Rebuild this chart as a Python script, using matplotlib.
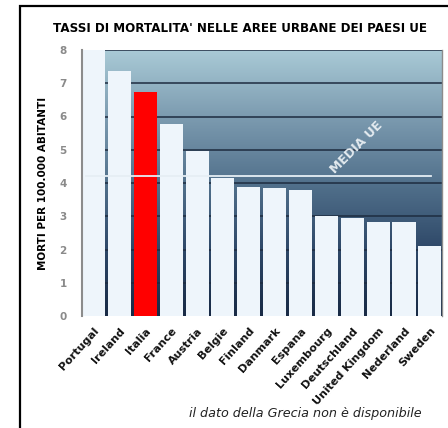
import numpy as np
import matplotlib
matplotlib.use('Agg')
import matplotlib.pyplot as plt
from matplotlib.colors import LinearSegmentedColormap
from matplotlib.patches import Rectangle

plt.rcParams['font.family'] = ['DejaVu Sans']

paesi = ['Portugal', 'Ireland', 'Italia', 'France', 'Austria', 'Belgie', 'Finland',
         'Danmark', 'Espana', 'Luxembourg', 'Deutschland', 'United Kingdom',
         'Nederland', 'Sweden']
tassi = [8.0, 7.37, 6.73, 5.77, 4.96, 4.16, 3.89, 3.84, 3.78, 3.01, 2.94, 2.83, 2.83, 2.11]
media_ue = 4.21
yticks = [0, 1, 2, 3, 4, 5, 6, 7, 8]

fig = plt.figure(figsize=(4.48, 4.28), dpi=100)
fig.patch.set_facecolor('white')

# cornice nera esterna
fig.patches.append(Rectangle((20 / 448, -0.05), 1.2, 1 - 6 / 428 + 0.05,
                             transform=fig.transFigure, fill=False,
                             edgecolor='black', linewidth=1.6))

ax = fig.add_axes([82 / 448, 1 - 316 / 428, (441.5 - 82) / 448, (316 - 50) / 428])
x = np.arange(len(paesi))
xmin, xmax = -0.45, len(paesi) - 0.55

# sfondo sfumato, chiaro in alto e scuro in basso
cmap = LinearSegmentedColormap.from_list('sfondo', ['#a9cad6', '#7c9bb0', '#52718c', '#2e4868', '#182a45'])
grad = np.linspace(0, 1, 256).reshape(-1, 1)
ax.imshow(grad, cmap=cmap, aspect='auto', extent=(xmin, xmax, 0, 8), zorder=0)

for y in yticks[1:]:
    ax.axhline(y, color='#1e2c40', linewidth=1.1, zorder=1)

colori = ['#eef5fb'] * len(paesi)
colori[paesi.index('Italia')] = '#ff0000'
ax.bar(x, tassi, width=0.89, color=colori, edgecolor='none', zorder=2)

ax.plot([-0.3, 13.05], [media_ue, media_ue], color='#e6eef4', linewidth=1.3, zorder=3)
ax.text(10.15, 5.08, 'MEDIA UE', rotation=45, color='#e3eaef', fontsize=9,
        fontweight='bold', ha='center', va='center', zorder=3)

ax.set_xlim(xmin, xmax)
ax.set_ylim(0, 8)
ax.set_yticks(yticks)
ax.set_yticklabels([str(v) for v in yticks], color='#8a8a8a', fontsize=7.5, fontweight='bold')
ax.tick_params(axis='y', length=0, pad=11)
ax.set_xticks(x)
ax.set_xticklabels(paesi, rotation=48, ha='right', rotation_mode='anchor',
                   fontsize=8, fontweight='bold', color='#111111')
ax.tick_params(axis='x', length=0, pad=7)

for s in ['top', 'bottom']:
    ax.spines[s].set_visible(False)
ax.spines['left'].set_color('#8c8c8c')
ax.spines['left'].set_linewidth(1.5)
ax.spines['right'].set_color('#8c8c8c')
ax.spines['right'].set_linewidth(1.0)

ax.set_ylabel('MORTI PER 100.000 ABITANTI', fontsize=7.5, fontweight='bold', labelpad=8)

fig.text(240 / 448, 1 - 28 / 428, "TASSI DI MORTALITA' NELLE AREE URBANE DEI PAESI UE",
         ha='center', va='center', fontsize=8.6, fontweight='bold')
fig.text(305 / 448, 1 - 413 / 428, 'il dato della Grecia non è disponibile',
         ha='center', va='center', fontsize=9.2, style='italic', color='#222222')

fig.savefig('out.png', dpi=100)
